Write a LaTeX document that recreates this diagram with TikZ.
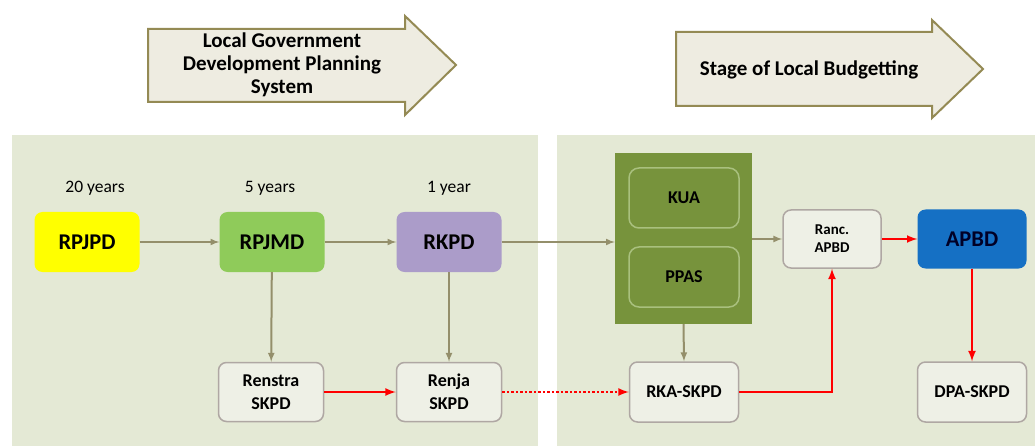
\documentclass[tikz,border=0pt]{standalone}
\usepackage{fontspec}
\setmainfont{Carlito}
\usetikzlibrary{arrows}

\definecolor{panelgreen}{HTML}{E4E9D5}
\definecolor{banner}{HTML}{EEECE1}
\definecolor{bannerline}{HTML}{948A54}
\definecolor{flowgray}{HTML}{948F6B}
\definecolor{lightbox}{HTML}{EEF0E6}
\definecolor{lightline}{HTML}{AFA7A3}
\definecolor{rpjpdyellow}{HTML}{FFFF00}
\definecolor{rpjmdgreen}{HTML}{8FCB5A}
\definecolor{rkpdpurple}{HTML}{AB9CC9}
\definecolor{blockgreen}{HTML}{77933C}
\definecolor{blockline}{HTML}{A9C07E}
\definecolor{apbdblue}{HTML}{1570C4}

\begin{document}
\begin{tikzpicture}[x=1pt,y=-1pt]
	\tikzstyle{mainbox}=[rectangle,rounded corners=8pt,minimum width=105pt,minimum height=60pt,inner sep=0pt,font=\fontsize{22.5}{26}\selectfont\bfseries]
	\tikzstyle{subbox}=[rectangle,rounded corners=8pt,draw=lightline,line width=1.5pt,fill=lightbox,minimum width=105pt,minimum height=59pt,inner sep=0pt,align=center,font=\fontsize{18}{23}\selectfont\bfseries]
	\tikzstyle{innerbox}=[rectangle,rounded corners=10pt,draw=blockline,line width=1.5pt,fill=blockgreen,minimum width=110pt,minimum height=60pt,inner sep=0pt,font=\fontsize{18}{22}\selectfont\bfseries]
	\tikzstyle{period}=[font=\fontsize{17.5}{20}\selectfont]
	\tikzstyle{flow}=[draw=flowgray,line width=2pt,-latex]
	\tikzstyle{redflow}=[draw=red,line width=2.5pt,-latex]
	\tikzstyle{banneredge}=[draw=bannerline,line width=2pt,fill=banner,line join=miter]
	\tikzstyle{bannertext}=[align=center,font=\fontsize{21}{23}\selectfont\bfseries]

	\useasboundingbox (0,0) rectangle (1035,446);
	\fill[white] (0,0) rectangle (1035,446);

	% panels
	\fill[panelgreen] (12,135) rectangle (538,446);
	\fill[panelgreen] (557,135) rectangle (1035,446);

	% banners
	\draw[banneredge] (148,29) -- (405,29) -- (405,16) -- (456,65) -- (405,115) -- (405,102) -- (148,102) -- cycle;
	\node[bannertext] (planning) at (282,65) {Local Government\\Development Planning\\System};
	\draw[banneredge] (676,32) -- (932,32) -- (932,20) -- (983,69) -- (932,118) -- (932,106) -- (676,106) -- cycle;
	\node[bannertext] (budgetting) at (809,70) {Stage of Local Budgetting};

	% planning row
	\node[mainbox,fill=rpjpdyellow] (rpjpd) at (87,242) {RPJPD};
	\node[mainbox,fill=rpjmdgreen] (rpjmd) at (272,242) {RPJMD};
	\node[mainbox,fill=rkpdpurple] (rkpd) at (449,242) {RKPD};
	\node[period] (y20) at (95,188) {20 years};
	\node[period] (y5) at (270,188) {5 years};
	\node[period] (y1) at (449,188) {1 year};

	\node[subbox] (renstra) at (271,392) {Renstra\\SKPD};
	\node[subbox] (renja) at (449,392) {Renja\\SKPD};

	% budgetting side
	\node[rectangle,fill=blockgreen,minimum width=137pt,minimum height=171pt,inner sep=0pt] (block) at (683.5,238.5) {};
	\node[innerbox] (kua) at (684,198) {KUA};
	\node[innerbox] (ppas) at (684,277) {PPAS};

	\node[subbox,minimum width=98pt,minimum height=58pt,font=\fontsize{15}{18}\selectfont\bfseries] (ranc) at (832,239) {Ranc.\\APBD};
	\node[mainbox,fill=apbdblue,minimum width=109pt,minimum height=59pt,text=black!85!blue] (apbd) at (972,239) {APBD};
	\node[subbox,minimum width=109pt,minimum height=60pt] (rka) at (684,392) {RKA-SKPD};
	\node[subbox,minimum width=109pt,minimum height=60pt] (dpa) at (972,392) {DPA-SKPD};

	% connectors
	\draw[flow] (rpjpd) -- (rpjmd);
	\draw[flow] (rpjmd) -- (rkpd);
	\draw[flow] (rpjmd) -- (renstra);
	\draw[flow] (rkpd) -- (renja);
	\draw[flow] (rkpd.east) -- (block.west |- rkpd.east);
	\draw[flow] (block.east |- ranc.west) -- (ranc.west);
	\draw[flow] (block.south) -- (rka.north);

	\draw[redflow] (renstra) -- (renja);
	\draw[redflow,dotted] (renja) -- (rka);
	\draw[redflow] (rka.east) -| (ranc.south);
	\draw[redflow] (ranc) -- (apbd);
	\draw[redflow] (apbd) -- (dpa);
\end{tikzpicture}
\end{document}
